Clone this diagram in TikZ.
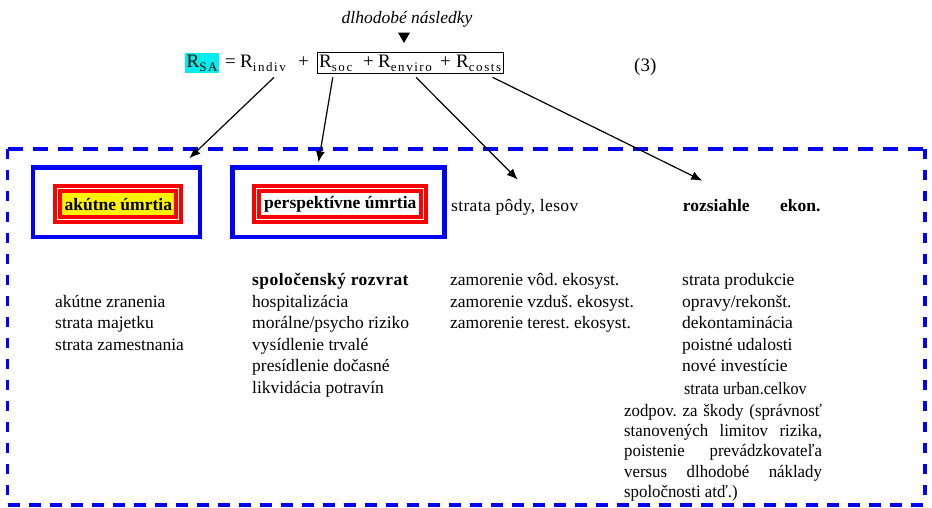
\documentclass[tikz,border=0pt]{standalone}
\usepackage{fontspec}
\setmainfont{Liberation Serif}
\usepackage{graphicx}
\usetikzlibrary{arrows.meta,fit,shapes.geometric}
\frenchspacing

\definecolor{aqua}{RGB}{0,238,238}
\newcommand{\Rterm}[1]{R\raisebox{-4pt}{\fontsize{13}{13}\selectfont\addfontfeature{LetterSpace=12}#1}}
\newcommand{\jline}[1]{\scalebox{0.96}[1]{\makebox[206pt][s]{#1}}}

\tikzset{
  txt/.style={font=\fontsize{17.5}{21}\selectfont, inner sep=0pt, anchor=base west},
  eqpart/.style={font=\fontsize{19}{22}\selectfont, inner sep=0pt, anchor=base west},
  bluebox/.style={draw=blue, line width=4.7pt, minimum height=69.5pt},
  redbox/.style={draw=red, double=white, double distance=1pt, line width=4pt,
    minimum height=31pt, inner sep=0pt, font=\fontsize{17.5}{21}\selectfont\bfseries},
  arr/.style={-{Latex[length=11pt,width=9pt]}, line width=1.2pt},
  frame/.style={blue, line width=3.3pt},
}

\begin{document}
\begin{tikzpicture}[x=1pt,y=1pt]
  \useasboundingbox (0,0) rectangle (932,-507);

  % equation
  \node[font=\fontsize{17.5}{21}\selectfont\itshape, inner sep=0pt] (longterm) at (407,-19) {dlhodobé následky};
  \node[regular polygon, regular polygon sides=3, shape border rotate=180, fill=black,
    inner sep=0pt, minimum size=14pt] (tri) at (404,-36) {};
  \node[eqpart, fill=aqua, inner sep=1.5pt] (rsa) at (185,-67) {\Rterm{SA}};
  \node[eqpart] (eq) at (225,-67) {=};
  \node[eqpart] (rindiv) at (240,-67) {\Rterm{indiv}};
  \node[eqpart] (plus1) at (298,-67) {+};
  \node[eqpart] (rsoc) at (319,-67) {\Rterm{soc}};
  \node[eqpart] (plus2) at (363,-67) {+};
  \node[eqpart] (renviro) at (378,-67) {\Rterm{enviro}};
  \node[eqpart] (plus3) at (440,-67) {+};
  \node[eqpart] (rcosts) at (456,-67) {\Rterm{costs}};
  \node[draw, line width=0.8pt, inner sep=2pt, fit=(rsoc)(rcosts)] (longbox) {};
  \node[eqpart] (eqno) at (634,-71) {(3)};

  % dashed frame
  \draw[frame, dash pattern=on 15pt off 10pt] (7.5,-149) -- (925,-149);
  \draw[frame, dash pattern=on 12pt off 9pt] (7.5,-505) -- (925,-505);
  \draw[frame, dash pattern=on 10pt off 11pt] (7.5,-149) -- (7.5,-505);
  \draw[frame, dash pattern=on 10pt off 11pt] (925,-149) -- (925,-505);

  % framed boxes
  \node[bluebox, minimum width=167pt] (b1) at (116.5,-202.3) {};
  \node[bluebox, minimum width=212pt] (b2) at (338.5,-202.3) {};
  \node[redbox, fill=yellow, minimum width=121pt] (acute) at (118.3,-204.3) {akútne úmrtia};
  \node[redbox, fill=white, minimum width=167pt] (persp) at (340.3,-204.3) {perspektívne úmrtia};
  \node[txt] (lesov) at (451,-211) {\addfontfeature{LetterSpace=2}strata pôdy, lesov};
  \node[txt, font=\fontsize{17.5}{21}\selectfont\bfseries] (rozs) at (682.7,-211) {rozsiahle};
  \node[txt, font=\fontsize{17.5}{21}\selectfont\bfseries] (ekon) at (780,-211) {ekon.};

  % arrows
  \draw[arr] ([shift={(11pt,-6pt)}]rindiv.south) -- ([shift={(-13pt,7pt)}]b1.north east);
  \draw[arr] ([shift={(-3pt,-6pt)}]rsoc.south) -- ([shift={(-20pt,3pt)}]b2.north);
  \draw[arr] ([shift={(11pt,-6pt)}]renviro.south) -- ([shift={(3pt,19pt)}]lesov.north);
  \draw[arr] ([shift={(14pt,-6pt)}]rcosts.south) -- ([shift={(-14pt,18pt)}]rozs.north);

  % lists
  \foreach \t [count=\k] in {akútne zranenia, strata majetku, strata zamestnania}
    \node[txt] (indiv-\k) at (55,{-285.5-21.6*\k}) {\t};
  \node[txt, font=\fontsize{17.5}{21}\selectfont\bfseries] (soc-0) at (252,-285.5)
    {\addfontfeature{LetterSpace=2.5}spoločenský rozvrat};
  \foreach \t [count=\k] in {hospitalizácia, morálne/psycho riziko, vysídlenie trvalé,
      presídlenie dočasné, likvidácia potravín}
    \node[txt] (soc-\k) at (252,{-285.5-21.6*\k}) {\t};
  \foreach \t [count=\k from 0] in {zamorenie vôd. ekosyst., zamorenie vzduš. ekosyst.,
      zamorenie terest. ekosyst.}
    \node[txt] (env-\k) at (450,{-285.5-21.6*\k}) {\t};
  \foreach \t [count=\k from 0] in {strata produkcie, opravy/rekonšt., dekontaminácia,
      poistné udalosti, nové investície}
    \node[txt] (cost-\k) at (682,{-285.5-21.6*\k}) {\t};
  \node[txt] (cost-5) at (684,-394) {\scalebox{0.92}[1]{strata urban.celkov}};
  \foreach \t [count=\k from 0] in {zodpov. za škody (správnosť, {stanovených limitov rizika,},
      poistenie prevádzkovateľa, versus dlhodobé náklady}
    \node[txt] (resp-\k) at (624,{-416.5-20.2*\k}) {\jline{\t}};
  \node[txt] (resp-4) at (624,-497.3) {\scalebox{0.96}[1]{spoločnosti atď.)}};
\end{tikzpicture}
\end{document}
